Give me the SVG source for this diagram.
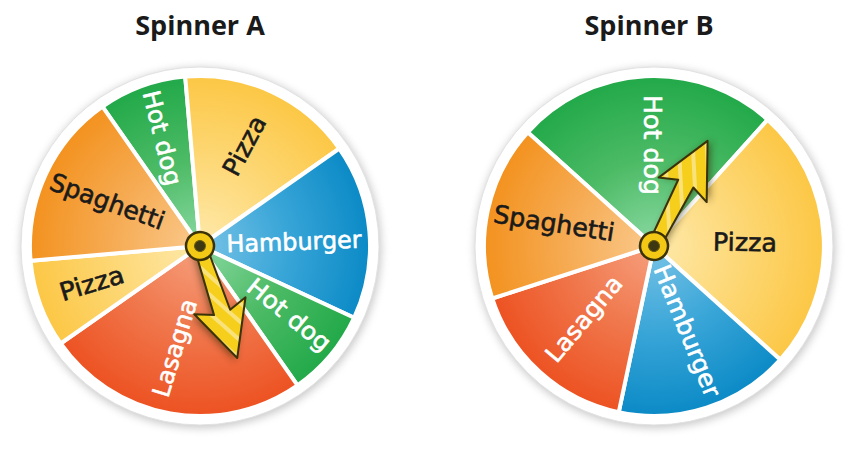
<svg xmlns="http://www.w3.org/2000/svg" width="861" height="452" viewBox="0 0 861 452">
<style>
.title{font-family:"Open Sans","Liberation Sans",sans-serif;font-weight:700;font-size:27px;fill:#1a1a1a;text-anchor:middle}
.lbl{font-family:"DejaVu Sans","Liberation Sans",sans-serif;font-size:24px;text-anchor:middle;stroke-width:0.6}
.w{fill:#ffffff;stroke:#ffffff}
.k{fill:#1a1a1a;stroke:#1a1a1a;font-size:25px}
.wedge{stroke:#ffffff;stroke-width:4;stroke-linejoin:miter}
.arrow{stroke:#3b3208;stroke-width:2;stroke-linejoin:round}
</style>
<defs>
<radialGradient id="gGreen" gradientUnits="userSpaceOnUse" cx="0" cy="0" r="170"><stop offset="0" stop-color="#8ad9a2"/><stop offset="0.5" stop-color="#4dbb66"/><stop offset="1" stop-color="#22a949"/></radialGradient>
<radialGradient id="gYellow" gradientUnits="userSpaceOnUse" cx="0" cy="0" r="170"><stop offset="0" stop-color="#fee9ab"/><stop offset="0.5" stop-color="#fdd877"/><stop offset="1" stop-color="#fcc745"/></radialGradient>
<radialGradient id="gOrange" gradientUnits="userSpaceOnUse" cx="0" cy="0" r="170"><stop offset="0" stop-color="#fac98c"/><stop offset="0.5" stop-color="#f6ac55"/><stop offset="1" stop-color="#f3921f"/></radialGradient>
<radialGradient id="gBlue" gradientUnits="userSpaceOnUse" cx="0" cy="0" r="170"><stop offset="0" stop-color="#78c3e6"/><stop offset="0.5" stop-color="#3aa6d8"/><stop offset="1" stop-color="#0b8ac6"/></radialGradient>
<radialGradient id="gRed" gradientUnits="userSpaceOnUse" cx="0" cy="0" r="170"><stop offset="0" stop-color="#f6a07e"/><stop offset="0.5" stop-color="#f0774c"/><stop offset="1" stop-color="#ed5222"/></radialGradient>
<pattern id="stripes" patternUnits="userSpaceOnUse" width="14" height="14" patternTransform="rotate(60)"><rect width="14" height="14" fill="#f5cf1c"/><rect width="4" height="14" fill="#f9e27a"/></pattern>
<filter id="shadow" x="-20%" y="-20%" width="140%" height="140%"><feGaussianBlur stdDeviation="4"/></filter>
<filter id="ashadow" x="-50%" y="-50%" width="200%" height="200%"><feGaussianBlur stdDeviation="3.5"/></filter>
<g id="pointerShape">
<polygon points="0,-6 70,-8.5 63,-27 118,0 63,27 70,8.5 0,6" transform="translate(2,3)" fill="#2a2200" opacity="0.5" filter="url(#ashadow)"/>
<polygon class="arrow" points="0,-6 70,-8.5 63,-27 118,0 63,27 70,8.5 0,6" fill="url(#stripes)"/>
<circle r="14" fill="#f4c916" stroke="#3b3208" stroke-width="2.5"/>
<circle r="5.5" fill="#3d3812" stroke="#6b5d10" stroke-width="1"/>
</g>
</defs>
<rect width="861" height="452" fill="#ffffff"/>

<g id="title-a"><text class="title" x="200" y="35">Spinner A</text></g>
<g id="title-b"><text class="title" x="649" y="35">Spinner B</text></g>

<g id="spinner-a" transform="translate(200,246)">
<circle r="180" fill="#9a9a9a" opacity="0.55" filter="url(#shadow)" transform="translate(1,2)"/>
<circle r="179" fill="#ffffff" stroke="#e2e2e2" stroke-width="1"/>
<g id="a-hotdog-1"><path class="wedge" fill="url(#gGreen)" d="M0,0 L-97.5,-139.3 A170,170 0 0 1 -14.8,-169.4 Z"/><text class="lbl w" transform="translate(-38,-108) rotate(76)" y="8" textLength="97" lengthAdjust="spacingAndGlyphs">Hot dog</text></g>
<g id="a-pizza-1"><path class="wedge" fill="url(#gYellow)" d="M0,0 L-14.8,-169.4 A170,170 0 0 1 139.3,-97.5 Z"/><text class="lbl k" transform="translate(45,-100) rotate(-62)" y="8" textLength="64" lengthAdjust="spacingAndGlyphs">Pizza</text></g>
<g id="a-hamburger"><path class="wedge" fill="url(#gBlue)" d="M0,0 L139.3,-97.5 A170,170 0 0 1 154.1,71.8 Z"/><text class="lbl w" transform="translate(94,-4) rotate(-2)" y="8" textLength="135" lengthAdjust="spacingAndGlyphs">Hamburger</text></g>
<g id="a-hotdog-2"><path class="wedge" fill="url(#gGreen)" d="M0,0 L154.1,71.8 A170,170 0 0 1 97.5,139.3 Z"/><text class="lbl w" transform="translate(89,69) rotate(39)" y="8" textLength="100" lengthAdjust="spacingAndGlyphs">Hot dog</text></g>
<g id="a-lasagna"><path class="wedge" fill="url(#gRed)" d="M0,0 L97.5,139.3 A170,170 0 0 1 -139.3,97.5 Z"/><text class="lbl w" transform="translate(-25,102) rotate(-73)" y="8" textLength="101" lengthAdjust="spacingAndGlyphs">Lasagna</text></g>
<g id="a-pizza-2"><path class="wedge" fill="url(#gYellow)" d="M0,0 L-139.3,97.5 A170,170 0 0 1 -169.4,14.8 Z"/><text class="lbl k" transform="translate(-108,38) rotate(-17)" y="8" textLength="66" lengthAdjust="spacingAndGlyphs">Pizza</text></g>
<g id="a-spaghetti"><path class="wedge" fill="url(#gOrange)" d="M0,0 L-169.4,14.8 A170,170 0 0 1 -97.5,-139.3 Z"/><text class="lbl k" transform="translate(-93,-44) rotate(20)" y="8" textLength="120" lengthAdjust="spacingAndGlyphs">Spaghetti</text></g>
<g id="a-pointer"><use href="#pointerShape" transform="rotate(71.6)"/></g>
</g>

<g id="spinner-b" transform="translate(654,246)">
<circle r="180" fill="#9a9a9a" opacity="0.55" filter="url(#shadow)" transform="translate(1,2)"/>
<circle r="179" fill="#ffffff" stroke="#e2e2e2" stroke-width="1"/>
<g id="b-hotdog"><path class="wedge" fill="url(#gGreen)" d="M0,0 L-126.3,-113.7 A170,170 0 0 1 113.7,-126.3 Z"/><text class="lbl w" transform="translate(-2,-101) rotate(90)" y="8" textLength="100" lengthAdjust="spacingAndGlyphs">Hot dog</text></g>
<g id="b-pizza"><path class="wedge" fill="url(#gYellow)" d="M0,0 L113.7,-126.3 A170,170 0 0 1 126.3,113.7 Z"/><text class="lbl k" transform="translate(91,-3) rotate(1)" y="8" textLength="64" lengthAdjust="spacingAndGlyphs">Pizza</text></g>
<g id="b-hamburger"><path class="wedge" fill="url(#gBlue)" d="M0,0 L126.3,113.7 A170,170 0 0 1 -35.3,166.3 Z"/><text class="lbl w" transform="translate(33,85) rotate(68)" y="8" textLength="140" lengthAdjust="spacingAndGlyphs">Hamburger</text></g>
<g id="b-lasagna"><path class="wedge" fill="url(#gRed)" d="M0,0 L-35.3,166.3 A170,170 0 0 1 -161.7,52.5 Z"/><text class="lbl w" transform="translate(-70,73) rotate(-50)" y="8" textLength="105" lengthAdjust="spacingAndGlyphs">Lasagna</text></g>
<g id="b-spaghetti"><path class="wedge" fill="url(#gOrange)" d="M0,0 L-161.7,52.5 A170,170 0 0 1 -126.3,-113.7 Z"/><text class="lbl k" transform="translate(-100,-22) rotate(9)" y="8" textLength="122" lengthAdjust="spacingAndGlyphs">Spaghetti</text></g>
<g id="b-pointer"><use href="#pointerShape" transform="rotate(-63)"/></g>
</g>

<g id="connectors"/>
</svg>
